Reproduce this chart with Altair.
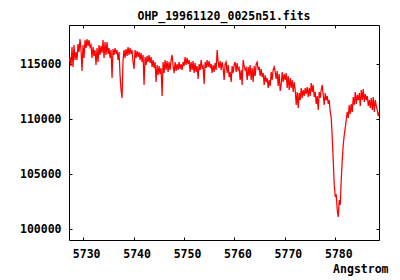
import altair as alt
import pandas as pd

TITLE = "OHP_19961120_0025n51.fits"
X_TITLE = "Angstrom"

# wavelength grid (FITS-like start and step)
CRVAL1 = 5727.2
CDELT1 = 0.1984

flux = [
    115180, 115640, 114820, 116540, 114730, 116730, 115360, 116090, 115360, 116820,
    116090, 117270, 116270, 114370, 116730, 115550, 117180, 116450, 117270, 116630,
    117180, 116540, 116730, 115550, 116540, 115730, 116270, 114910, 116450, 115180,
    116730, 115820, 116630, 116000, 117180, 115550, 117000, 115820, 117000, 115910,
    116450, 115550, 116270, 113730, 116360, 115820, 116450, 115910, 116270, 115360,
    116090, 114000, 112640, 111920, 115360, 116270, 115550, 116360, 115730, 116540,
    115820, 116450, 115910, 116270, 115180, 114550, 116270, 115550, 116180, 115640,
    116090, 115360, 116000, 115180, 115820, 113100, 115640, 114910, 115730, 115180,
    115820, 115090, 115640, 114730, 115360, 114640, 115180, 113370, 114910, 114000,
    114820, 114090, 114640, 112100, 115180, 114180, 115360, 114460, 115270, 114280,
    115180, 114460, 115360, 115820, 114820, 114180, 115180, 114370, 115000, 114460,
    115180, 114550, 115000, 114460, 115180, 114820, 115640, 114910, 115550, 115000,
    115360, 114280, 115180, 114460, 115270, 114180, 115090, 114280, 114820, 113640,
    115000, 114460, 115360, 114640, 114820, 113190, 115180, 114640, 115360, 114730,
    115270, 114640, 115000, 114180, 114910, 114280, 115090, 114460, 116270, 115180,
    114640, 115270, 114460, 115180, 114640, 113550, 115000, 115180, 114180, 114910,
    113820, 114280, 113370, 114820, 114180, 114910, 115180, 114280, 115090, 114460,
    114640, 113550, 114460, 113100, 115360, 114820, 114460, 114640, 113550, 114730,
    113910, 114910, 113550, 114640, 113370, 114820, 113910, 115000, 115180, 114460,
    114730, 113910, 114550, 113820, 114180, 113100, 114000, 113370, 113730, 112820,
    113550, 113000, 114280, 113550, 114460, 114730, 114280, 113640, 114370, 113000,
    114090, 112550, 113100, 114280, 113370, 114090, 113550, 114180, 112820, 113910,
    112640, 113730, 112820, 113550, 112460, 113370, 112640, 111280, 112460, 111010,
    112370, 111730, 112820, 111920, 112640, 112100, 112820, 112280, 112910, 112010,
    112820, 112100, 113280, 112460, 113100, 112010, 112460, 111370, 112100, 110830,
    112460, 111920, 112640, 113100, 112190, 111280, 112370, 111730, 112100, 111370,
    111730, 110650, 110100, 108380, 106290, 104020, 103020, 103110, 101750, 101120,
    102660, 102210, 104480, 106290, 107650, 108560, 109190, 109920, 110650, 110100,
    111280, 110460, 111370, 110650, 112010, 111280, 112460, 111370, 112190, 111730,
    112370, 111190, 112640, 111730, 112730, 111550, 112280, 111730, 112100, 111190,
    111730, 111010, 111920, 110830, 112010, 110650, 111730, 111190, 110830, 110280,
    110650,
]

wavelength = [round(CRVAL1 + i * CDELT1, 4) for i in range(len(flux))]

x_ticks = [5730, 5740, 5750, 5760, 5770, 5780]
y_ticks = [100000, 105000, 110000, 115000]
x_domain = [5727.2, 5788.65]
y_domain = [99030, 118540]

df = pd.DataFrame({"wavelength": wavelength, "flux": flux})

FONT = "DejaVu Sans Mono"

x_scale = alt.Scale(domain=x_domain, nice=False, zero=False)
y_scale = alt.Scale(domain=y_domain, nice=False, zero=False)

base = alt.Chart(df)

main = base.mark_line(color="#ff0000", strokeWidth=1.25, clip=True).encode(
    x=alt.X("wavelength:Q", scale=x_scale,
            axis=alt.Axis(values=x_ticks, format="d", grid=False, domain=False,
                          tickSize=3, offset=-3, tickColor="black", tickWidth=1,
                          labelFont=FONT, labelFontSize=11.5, labelFontWeight="bold",
                          labelColor="black", labelPadding=8, labelOffset=3,
                          title=X_TITLE, titleFont=FONT, titleFontSize=11.5,
                          titleFontWeight="bold", titleColor="black",
                          titleAlign="right", titleBaseline="alphabetic",
                          titleX=319, titleY=35)),
    y=alt.Y("flux:Q", scale=y_scale,
            axis=alt.Axis(values=y_ticks, format="d", grid=False, domain=False,
                          tickSize=3, offset=-3, tickColor="black", tickWidth=1,
                          labelFont=FONT, labelFontSize=11.5, labelFontWeight="bold",
                          labelColor="black", labelPadding=8, title=None)),
)

mirror = base.mark_line(opacity=0, clip=True).encode(
    x=alt.X("wavelength:Q", scale=x_scale,
            axis=alt.Axis(orient="top", values=x_ticks, grid=False, domain=False,
                          tickSize=3, offset=-3, tickColor="black", labels=False,
                          title=None)),
    y=alt.Y("flux:Q", scale=y_scale,
            axis=alt.Axis(orient="right", values=y_ticks, grid=False, domain=False,
                          tickSize=3, offset=-3, tickColor="black", labels=False,
                          title=None)),
)

chart = alt.layer(main, mirror).resolve_axis(
    x="independent", y="independent"
).properties(
    width=310,
    height=215,
    autosize=alt.AutoSizeParams(type="none"),
    padding={"left": 69, "top": 25, "right": 21, "bottom": 40},
    background="white",
    title=alt.TitleParams(TITLE, font=FONT, fontSize=11.5, fontWeight="bold",
                          color="black", anchor="middle", frame="group",
                          baseline="alphabetic", offset=7, dy=14),
).configure_view(stroke="black", strokeWidth=1)

chart.save("out.html", embed_options={"renderer": "svg", "actions": False})
